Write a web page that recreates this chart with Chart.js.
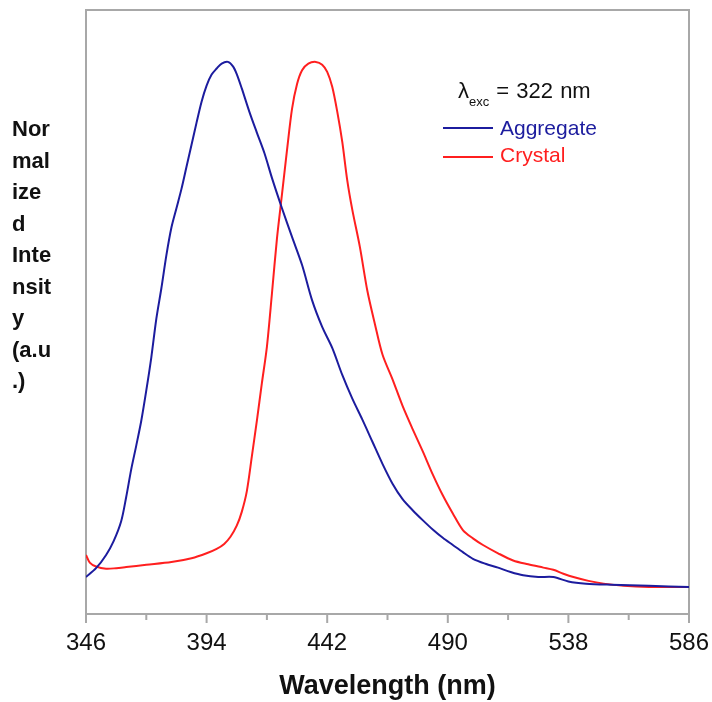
<!DOCTYPE html>
<html>
<head>
<meta charset="utf-8">
<script src="https://cdn.jsdelivr.net/npm/chart.js@4.4.0/dist/chart.umd.min.js"></script>
<style>
  html, body { margin: 0; padding: 0; background: #fff; }
  #wrap { position: relative; width: 712px; height: 702px; font-family: "Liberation Sans", Arial, sans-serif; color: #111; }
  #ytitle { position: absolute; left: 12px; top: 113px; font-weight: bold; font-size: 22px; line-height: 31.5px; }
  #note { position: absolute; left: 458px; top: 80px; font-size: 22px; line-height: 22px; word-spacing: 1px; white-space: nowrap; }
  #note sub { font-size: 13px; vertical-align: -8px; line-height: 0; word-spacing: 0; }
  .key { position: absolute; left: 443px; width: 50px; height: 2px; }
  .keytxt { position: absolute; left: 500px; font-size: 21px; line-height: 21px; }
</style>
</head>
<body>
<div id="wrap">
  <canvas id="chart" width="712" height="702"></canvas>
  <div id="ytitle">Nor<br>mal<br>ize<br>d<br>Inte<br>nsit<br>y<br>(a.u<br>.)</div>
  <div id="note">λ<sub>exc</sub> = 322 nm</div>
  <div class="key" style="top:127px; background:#1c1c9e;"></div>
  <div class="keytxt" style="top:117px; color:#1c1c9e;">Aggregate</div>
  <div class="key" style="top:156px; background:#ff1f1f;"></div>
  <div class="keytxt" style="top:144px; color:#ff1f1f;">Crystal</div>
</div>
<script>
// wavelengths (nm) and normalized intensities
const aggregateNm = [346, 350, 354, 357, 360, 362, 364, 366, 368, 370, 372, 374, 376, 378, 380, 382, 384,
  386, 388, 390, 392, 394, 396, 398, 400, 402.5, 404.5, 406, 408, 411, 414, 417, 420, 424, 428, 432,
  436, 440, 444, 448, 452, 456, 460, 464, 468, 472, 476, 480, 484, 488, 492, 496, 500, 505, 510, 515,
  520, 526, 532, 538, 545, 555, 570, 586];
const aggregateVal = [0.067, 0.083, 0.107, 0.132, 0.168, 0.212, 0.262, 0.305, 0.350, 0.405, 0.465, 0.535,
  0.590, 0.650, 0.700, 0.735, 0.770, 0.810, 0.850, 0.890, 0.928, 0.957, 0.977, 0.988, 0.997, 1.000,
  0.992, 0.978, 0.952, 0.910, 0.872, 0.835, 0.790, 0.735, 0.683, 0.632, 0.568, 0.520, 0.482, 0.433,
  0.390, 0.352, 0.312, 0.272, 0.236, 0.208, 0.188, 0.170, 0.153, 0.138, 0.125, 0.112, 0.100, 0.091,
  0.084, 0.076, 0.070, 0.067, 0.067, 0.059, 0.055, 0.053, 0.051, 0.049];

const crystalNm = [346, 347.5, 350, 354, 358, 362, 370, 380, 388, 394, 398, 401, 403.5, 406, 408, 410,
  412, 414, 416, 418, 420, 422, 424, 426, 428, 430, 432, 434.5, 437.5, 440, 442, 444, 446, 448, 450,
  452, 455, 458, 461, 464, 468, 472, 476, 480, 484, 488, 492, 496, 500, 504, 510, 516, 522, 528, 532,
  536, 540, 546, 552, 560, 570, 586];
const crystalVal = [0.107, 0.093, 0.086, 0.082, 0.083, 0.085, 0.089, 0.094, 0.101, 0.110, 0.118, 0.127,
  0.140, 0.160, 0.185, 0.222, 0.285, 0.350, 0.418, 0.484, 0.580, 0.680, 0.760, 0.840, 0.915, 0.960,
  0.985, 0.997, 1.000, 0.995, 0.982, 0.955, 0.910, 0.855, 0.785, 0.732, 0.665, 0.585, 0.525, 0.470,
  0.425, 0.377, 0.335, 0.295, 0.253, 0.215, 0.182, 0.152, 0.137, 0.125, 0.110, 0.097, 0.090, 0.084,
  0.080, 0.073, 0.067, 0.060, 0.055, 0.051, 0.049, 0.049];

const majorTicks = [346, 394, 442, 490, 538, 586];
const minorTicks = [370, 418, 466, 514, 562];

const toPoints = (xs, ys) => xs.map((x, i) => ({ x: x, y: ys[i] }));

// box round the plot plus the tick marks under the x axis
const framePlugin = {
    id: 'frame',
    beforeDatasetsDraw(chart) {
        const { ctx, chartArea: a, scales: { x } } = chart;
        ctx.save();
        ctx.strokeStyle = '#a8a8a8';
        ctx.lineWidth = 2;
        ctx.strokeRect(a.left, a.top, a.right - a.left, a.bottom - a.top);
        ctx.beginPath();
        majorTicks.forEach(v => {
            const px = x.getPixelForValue(v);
            ctx.moveTo(px, a.bottom);
            ctx.lineTo(px, a.bottom + 9);
        });
        minorTicks.forEach(v => {
            const px = x.getPixelForValue(v);
            ctx.moveTo(px, a.bottom);
            ctx.lineTo(px, a.bottom + 6);
        });
        ctx.stroke();
        ctx.restore();
    }
};

new Chart(document.getElementById('chart'), {
    type: 'line',
    data: {
        datasets: [
            {
                label: 'Aggregate',
                data: toPoints(aggregateNm, aggregateVal),
                borderColor: '#1c1c9e',
            },
            {
                label: 'Crystal',
                data: toPoints(crystalNm, crystalVal),
                borderColor: '#ff1f1f',
            },
        ],
    },
    options: {
        responsive: false,
        animation: false,
        layout: { padding: { left: 86, right: 23, top: 10, bottom: 0 } },
        plugins: { legend: { display: false }, tooltip: { enabled: false } },
        elements: {
            point: { radius: 0 },
            line: { borderWidth: 2, tension: 0.3 },
        },
        scales: {
            x: {
                type: 'linear',
                min: 346,
                max: 586,
                afterBuildTicks: s => { s.ticks = majorTicks.map(v => ({ value: v })); },
                afterFit: s => { s.height = 88; s.paddingLeft = 0; s.paddingRight = 0; },
                grid: { display: false },
                border: { display: false },
                ticks: {
                    color: '#111',
                    padding: 7,
                    autoSkip: false,
                    maxRotation: 0,
                    font: { family: '"Liberation Sans", Arial, sans-serif', size: 24 },
                },
                title: {
                    display: true,
                    text: 'Wavelength (nm)',
                    color: '#111',
                    padding: { top: 0, bottom: 2 },
                    font: { family: '"Liberation Sans", Arial, sans-serif', size: 27, weight: 'bold', lineHeight: 1 },
                },
            },
            y: { display: false, min: 0, max: 1.094 },
        },
    },
    plugins: [framePlugin],
});
</script>
</body>
</html>
